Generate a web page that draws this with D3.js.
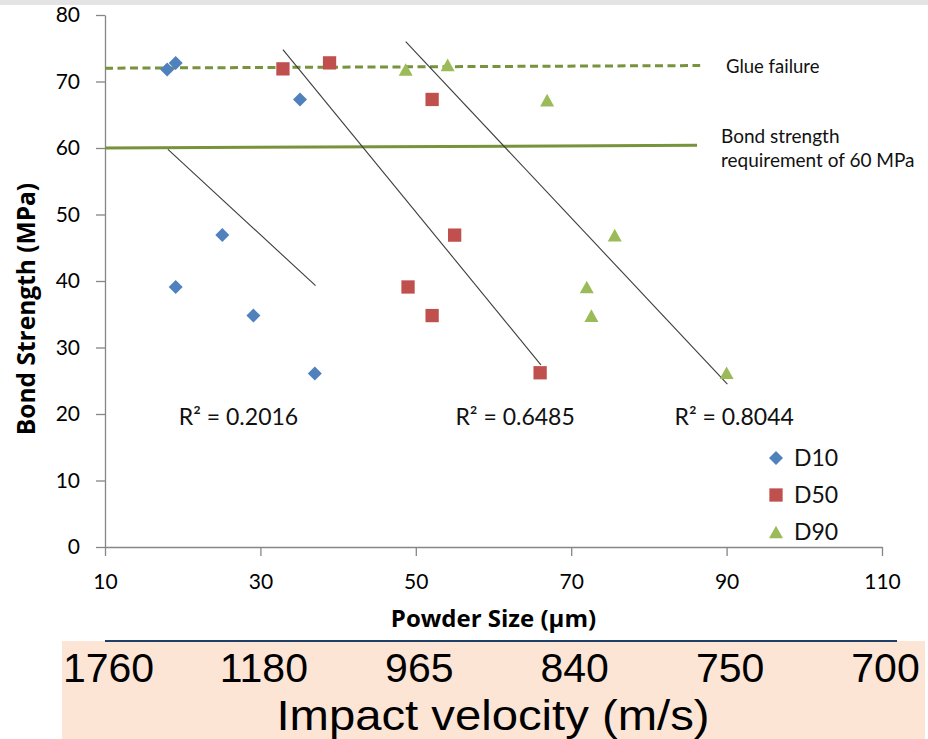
<!DOCTYPE html>
<html>
<head>
<meta charset="utf-8">
<script src="https://cdn.jsdelivr.net/npm/d3@7"></script>
<style>
  html, body { margin: 0; padding: 0; background: #fff; }
  svg { display: block; }
</style>
</head>
<body>
<svg id="chart" width="928" height="739"></svg>
<script>
// ---------------- DATA ----------------
const seriesNames = ["D10", "D50", "D90"];
const d10X = [18.0, 19.1, 35.1, 19.1, 25.1, 29.1, 37.0];
const d10Y = [71.8, 72.8, 67.3, 39.1, 46.9, 34.8, 26.1];
const d50X = [32.9, 38.9, 52.1, 49.0, 55.0, 52.1, 66.0];
const d50Y = [71.9, 72.8, 67.3, 39.1, 46.9, 34.8, 26.2];
const d90X = [48.7, 54.1, 66.9, 72.0, 75.6, 72.6, 90.0];
const d90Y = [71.8, 72.5, 67.2, 39.1, 46.9, 34.8, 26.2];

// trend lines: [x0, y0, x1, y1] in data units
const trendD10 = [18.1, 59.8, 37.1, 39.3];
const trendD50 = [32.9, 74.8, 66.1, 27.4];
const trendD90 = [48.7, 76.0, 90.1, 24.5];
const r2Labels = ["R² = 0.2016", "R² = 0.6485", "R² = 0.8044"];
const r2AnchorX = [19.5, 55.1, 83.3];
const r2AnchorY = [18.4, 18.4, 18.4];

// reference lines: [x0, y0, x1, y1]
const glueLine = [10, 72.0, 86.6, 72.4];
const requirementLine = [10, 60.0, 86.2, 60.4];
const glueLabel = ["Glue failure"];
const requirementLabel = ["Bond strength", "requirement of 60 MPa"];

const xTicks = [10, 30, 50, 70, 90, 110];
const yTicks = [0, 10, 20, 30, 40, 50, 60, 70, 80];
const velocityLabels = ["1760", "1180", "965", "840", "750", "700"];
const xTitle = "Powder Size (µm)";
const yTitle = "Bond Strength (MPa)";
const velocityTitle = "Impact velocity (m/s)";

// ---------------- STYLE ----------------
const colors = { D10: "#4f81bd", D50: "#c0504d", D90: "#9bbb59" };
const guideColor = "#77933c";
const axisColor = "#868686";
const font = "Lato, 'Open Sans', sans-serif";
const boldFont = "'Open Sans', Lato, sans-serif";

const svg = d3.select("#chart");
const x = d3.scaleLinear().domain([10, 110]).range([105, 882]);
const y = d3.scaleLinear().domain([0, 80]).range([547, 15]);

// top grey strip
svg.append("rect").attr("x", 0).attr("y", 0).attr("width", 928).attr("height", 5).attr("fill", "#e4e4e4");

// axes
const yAxis = d3.axisLeft(y).tickValues(yTicks).tickSizeInner(9).tickSizeOuter(0).tickPadding(16);
const xAxis = d3.axisBottom(x).tickValues(xTicks).tickSizeInner(9).tickSizeOuter(0).tickPadding(18);

const gy = svg.append("g").attr("transform", `translate(${x.range()[0]},0)`).call(yAxis);
const gx = svg.append("g").attr("transform", `translate(0,${y.range()[0]})`).call(xAxis);
[gx, gy].forEach(g => {
  g.selectAll("path, line").attr("stroke", axisColor).attr("stroke-width", 1.3);
  g.selectAll("text").attr("fill", "#000").style("font-family", font).style("font-size", "21px");
});

// axis titles
svg.append("text")
  .attr("transform", `translate(35,${(y(0) + y(80)) / 2 + 28}) rotate(-90)`)
  .attr("text-anchor", "middle")
  .style("font-family", boldFont).style("font-size", "24.5px").style("font-weight", "bold")
  .text(yTitle);
svg.append("text")
  .attr("x", (x(10) + x(110)) / 2).attr("y", 627)
  .attr("text-anchor", "middle")
  .style("font-family", boldFont).style("font-size", "24px").style("font-weight", "bold")
  .text(xTitle);

// reference lines
function seg(arr) { return [[arr[0], arr[1]], [arr[2], arr[3]]]; }
const line = d3.line().x(d => x(d[0])).y(d => y(d[1]));
svg.append("path").attr("d", line(seg(glueLine)))
  .attr("stroke", guideColor).attr("stroke-width", 3).attr("stroke-dasharray", "8,4.5").attr("fill", "none");
svg.append("path").attr("d", line(seg(requirementLine)))
  .attr("stroke", guideColor).attr("stroke-width", 3).attr("fill", "none");

svg.append("text").attr("x", 726).attr("y", 73)
  .style("font-family", font).style("font-size", "18.5px").attr("fill", "#111")
  .text(glueLabel[0]);
svg.append("text").attr("x", 721).attr("y", 143)
  .style("font-family", font).style("font-size", "19px").attr("fill", "#111")
  .selectAll("tspan").data(requirementLabel).join("tspan")
  .attr("x", 721).attr("dy", (d, i) => i === 0 ? 0 : 24)
  .text(d => d);

// trend lines
[trendD10, trendD50, trendD90].forEach(t => {
  svg.append("path").attr("d", line(seg(t)))
    .attr("stroke", "#3c3c3c").attr("stroke-width", 1.1).attr("fill", "none");
});

// R² labels
svg.selectAll("text.r2").data(r2Labels).join("text").attr("class", "r2")
  .attr("x", (d, i) => x(r2AnchorX[i])).attr("y", (d, i) => y(r2AnchorY[i]))
  .style("font-family", font).style("font-size", "23px").attr("fill", "#111")
  .text(d => d);

// markers
function markerPath(type, s) {
  if (type === "D10") return `M0,${-s}L${s},0L0,${s}L${-s},0Z`;
  if (type === "D50") { const h = s * 0.95; return `M${-h},${-h}H${h}V${h}H${-h}Z`; }
  const w = s, h = s * 0.9;
  return `M0,${-h}L${w},${h}L${-w},${h}Z`;
}
const seriesData = [
  { name: "D10", xs: d10X, ys: d10Y },
  { name: "D50", xs: d50X, ys: d50Y },
  { name: "D90", xs: d90X, ys: d90Y }
];
seriesData.forEach(s => {
  const pts = s.xs.map((v, i) => [v, s.ys[i]]);
  svg.append("g").selectAll("path").data(pts).join("path")
    .attr("transform", d => `translate(${x(d[0])},${y(d[1])})`)
    .attr("d", markerPath(s.name, 7))
    .attr("fill", colors[s.name]);
});

// legend
const legend = svg.append("g");
seriesNames.forEach((n, i) => {
  const cy = 458 + i * 37;
  legend.append("path").attr("transform", `translate(776,${cy})`).attr("d", markerPath(n, 7)).attr("fill", colors[n]);
  legend.append("text").attr("x", 794).attr("y", cy + 8)
    .style("font-family", font).style("font-size", "23px").attr("fill", "#111").text(n);
});

// bottom velocity band
svg.append("rect").attr("x", 62).attr("y", 641).attr("width", 863).attr("height", 98).attr("fill", "#fde5d6");
svg.append("line").attr("x1", x(10)).attr("x2", 897).attr("y1", 641).attr("y2", 641)
  .attr("stroke", "#1f3f66").attr("stroke-width", 2);
svg.selectAll("text.vel").data(velocityLabels).join("text").attr("class", "vel")
  .attr("x", (d, i) => x(xTicks[i]) + 3.5).attr("y", 682)
  .attr("text-anchor", "middle")
  .style("font-family", "'Liberation Sans', Arial, sans-serif").style("font-size", "41px").attr("fill", "#000")
  .text(d => d);
svg.append("text").attr("x", 493).attr("y", 730).attr("text-anchor", "middle")
  .attr("textLength", 433).attr("lengthAdjust", "spacingAndGlyphs")
  .style("font-family", "'Liberation Sans', Arial, sans-serif").style("font-size", "43px").attr("fill", "#000")
  .text(velocityTitle);
</script>
</body>
</html>
